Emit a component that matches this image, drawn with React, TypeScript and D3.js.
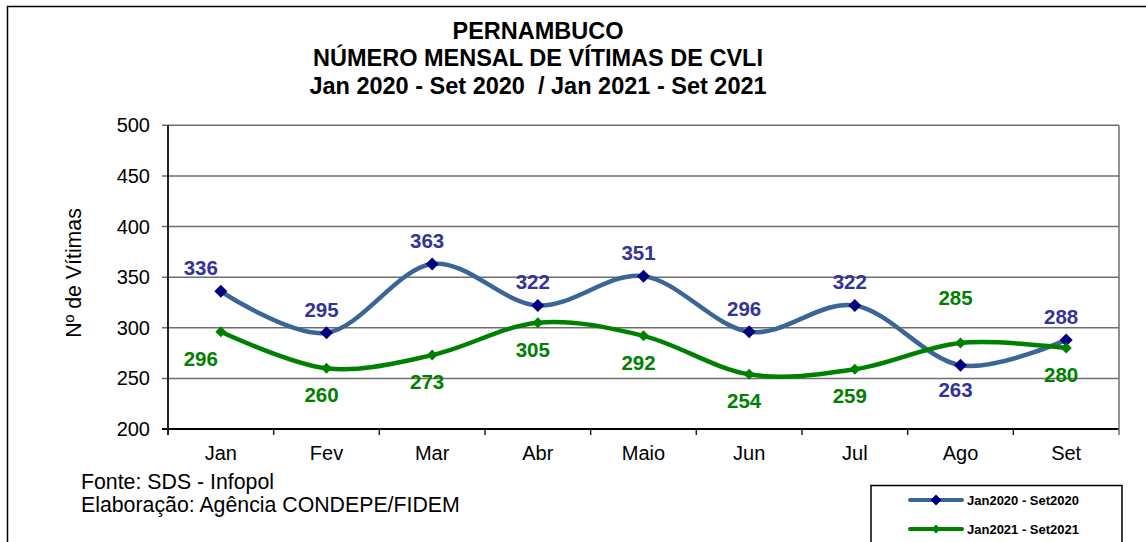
import * as d3 from 'd3';

const months = ['Jan', 'Fev', 'Mar', 'Abr', 'Maio', 'Jun', 'Jul', 'Ago', 'Set'];
const vitimas2020 = [336, 295, 363, 322, 351, 296, 322, 263, 288];
const vitimas2021 = [296, 260, 273, 305, 292, 254, 259, 285, 280];
// which labels sit above the point (true) or below (false)
const above2020 = [true, true, true, true, true, true, true, false, true];
const above2021 = [false, false, false, false, false, false, false, true, false];
const yTicks = [200, 250, 300, 350, 400, 450, 500];

const titleLines = [
  'PERNAMBUCO',
  'NÚMERO MENSAL DE VÍTIMAS DE CVLI',
  'Jan 2020 - Set 2020  / Jan 2021 - Set 2021',
];

const W = 1146;
const H = 542;
const plot = { left: 168, right: 1119, top: 125.3, bottom: 429 };

const series = [
  {
    name: 'Jan2020 - Set2020',
    values: vitimas2020,
    above: above2020,
    line: '#3B6597',
    marker: '#000080',
    label: '#333399',
    size: 6.5,
    upDy: -16,
    downDy: 32,
  },
  {
    name: 'Jan2021 - Set2021',
    values: vitimas2021,
    above: above2021,
    line: '#008000',
    marker: '#008000',
    label: '#008000',
    size: 5.5,
    upDy: -38,
    downDy: 34,
  },
];

const font = 'Arial, "Liberation Sans", Helvetica, sans-serif';

export default function App() {
  const x = d3.scalePoint<string>().domain(months).range([plot.left, plot.right]).padding(0.5);
  const band = (plot.right - plot.left) / months.length;
  const y = d3.scaleLinear().domain([200, 500]).range([plot.bottom, plot.top]);

  const line = d3
    .line<number>()
    .x((_, i) => x(months[i]) as number)
    .y((d) => y(d))
    .curve(d3.curveCardinal.tension(0));

  const diamond = (cx: number, cy: number, r: number) =>
    `M${cx},${cy - r}L${cx + r},${cy}L${cx},${cy + r}L${cx - r},${cy}Z`;

  return (
    <svg
      width={W}
      height={H}
      style={{ position: 'absolute', left: 0, top: 0, background: '#fff' }}
      fontFamily={font}
    >
      <rect x={0} y={0} width={W} height={H} fill="#fff" />
      <rect x={7.5} y={6.5} width={W + 10} height={H + 10} fill="none" stroke="#000" strokeWidth={1.5} />

      {titleLines.map((t, i) => (
        <text
          key={t}
          x={538}
          y={38.5 + i * 27.5}
          textAnchor="middle"
          fontSize={23.5}
          fontWeight="bold"
          style={{ whiteSpace: 'pre' }}
        >
          {t}
        </text>
      ))}

      {/* gridlines */}
      {yTicks.map((t) => (
        <line
          key={t}
          x1={plot.left - 6}
          x2={plot.right}
          y1={y(t)}
          y2={y(t)}
          stroke={t === 200 ? '#000' : '#6e6e6e'}
          strokeWidth={t === 200 ? 2 : 1.5}
        />
      ))}
      <line x1={plot.right} x2={plot.right} y1={plot.top} y2={plot.bottom + 6} stroke="#6e6e6e" strokeWidth={1.5} />
      <line x1={plot.left} x2={plot.left} y1={plot.top} y2={plot.bottom + 6} stroke="#222" strokeWidth={2} />

      {/* x ticks */}
      {months.map((m, i) =>
        i === 0 ? null : (
          <line
            key={'t' + m}
            x1={plot.left + band * i}
            x2={plot.left + band * i}
            y1={plot.bottom}
            y2={plot.bottom + 6}
            stroke="#222"
            strokeWidth={1.5}
          />
        )
      )}

      {yTicks.map((t) => (
        <text key={'l' + t} x={150} y={y(t) + 7} textAnchor="end" fontSize={20}>
          {t}
        </text>
      ))}

      {months.map((m) => (
        <text key={m} x={x(m)} y={460} textAnchor="middle" fontSize={20}>
          {m}
        </text>
      ))}

      <text transform="translate(81,273) rotate(-90)" textAnchor="middle" fontSize={21.3}>
        Nº de Vítimas
      </text>

      {series.map((s) => (
        <g key={s.name}>
          <path d={line(s.values) ?? ''} fill="none" stroke={s.line} strokeWidth={4.5} />
          {s.values.map((v, i) => (
            <path key={i} d={diamond(x(months[i]) as number, y(v), s.size)} fill={s.marker} />
          ))}
          {s.values.map((v, i) => (
            <text
              key={'v' + i}
              x={(x(months[i]) as number) + (i === 0 ? -20 : -5)}
              y={y(v) + (s.above[i] ? s.upDy : s.downDy)}
              textAnchor="middle"
              fontSize={20.5}
              fontWeight="bold"
              fill={s.label}
            >
              {v}
            </text>
          ))}
        </g>
      ))}

      <text x={81} y={489} fontSize={21.3}>
        Fonte: SDS - Infopol
      </text>
      <text x={81} y={512} fontSize={21.3}>
        Elaboração: Agência CONDEPE/FIDEM
      </text>

      {/* legend */}
      <rect x={871} y={485.5} width={251} height={80} fill="#fff" stroke="#000" strokeWidth={1.5} />
      {series.map((s, i) => {
        const ly = 500 + i * 29;
        return (
          <g key={'lg' + s.name}>
            <line x1={910} x2={962} y1={ly} y2={ly} stroke={s.line} strokeWidth={4} strokeLinecap="round" />
            <path d={diamond(936, ly, s.size - 1)} fill={s.marker} />
            <text x={967} y={ly + 4.5} fontSize={13} fontWeight="bold">
              {s.name}
            </text>
          </g>
        );
      })}
    </svg>
  );
}
